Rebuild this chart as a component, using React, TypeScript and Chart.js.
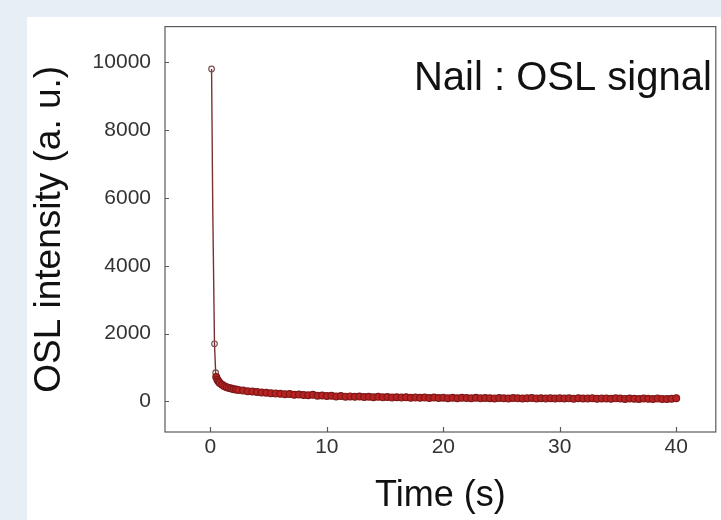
import React, { useEffect, useRef } from "react";
import { Chart, registerables } from "chart.js";

Chart.register(...registerables);

// Time (s)
const times: number[] = [
  0.1, 0.2, 0.35, 0.45, 0.5, 0.6, 0.7, 0.8, 1.0, 1.2, 1.4, 1.6, 1.8, 2.0, 2.2, 2.4, 2.8, 3.2, 3.6, 4.0,
  4.4, 4.8, 5.2, 5.6, 6.0, 6.4, 6.8, 7.2, 7.6, 8.0, 8.4, 8.8, 9.2, 9.6, 10.0, 10.4, 10.8, 11.2, 11.6,
  12.0, 12.4, 12.8, 13.2, 13.6, 14.0, 14.4, 14.8, 15.2, 15.6, 16.0, 16.4, 16.8, 17.2, 17.6, 18.0, 18.4,
  18.8, 19.2, 19.6, 20.0, 20.4, 20.8, 21.2, 21.6, 22.0, 22.4, 22.8, 23.2, 23.6, 24.0, 24.4, 24.8, 25.2,
  25.6, 26.0, 26.4, 26.8, 27.2, 27.6, 28.0, 28.4, 28.8, 29.2, 29.6, 30.0, 30.4, 30.8, 31.2, 31.6, 32.0,
  32.4, 32.8, 33.2, 33.6, 34.0, 34.4, 34.8, 35.2, 35.6, 36.0, 36.4, 36.8, 37.2, 37.6, 38.0, 38.4, 38.8,
  39.2, 39.6, 40.0,
];

// OSL intensity (a. u.)
const intensity: number[] = [
  9800, 5700, 1700, 850, 720, 640, 590, 545, 490, 450, 420, 395, 380, 360, 350, 335, 320, 300, 292, 280,
  265, 258, 245, 238, 228, 215, 222, 198, 205, 190, 182, 195, 170, 176, 160, 168, 150, 158, 142,
  150, 138, 146, 132, 140, 128, 136, 122, 130, 118, 126, 114, 124, 110, 120, 108, 118,
  104, 116, 102, 112, 98, 110, 96, 108, 100, 94, 106, 92, 104, 96, 90, 102, 94,
  88, 100, 92, 86, 98, 104, 90, 96, 84, 94, 88, 98, 86, 92, 82, 96, 88,
  84, 94, 80, 90, 86, 78, 92, 84, 76, 88, 82, 74, 86, 78, 72, 84, 76,
  70, 82, 95,
];

const xTickValues: number[] = [0, 10, 20, 30, 40];
const yTickValues: number[] = [0, 2000, 4000, 6000, 8000, 10000];

const titleText = "Nail : OSL signal";
const xTitle = "Time (s)";
const yTitle = "OSL intensity (a. u.)";

const FONT = "'Liberation Sans', Arial, sans-serif";

const framePlugin = {
  id: "frame",
  afterDraw(chart: any) {
    const { ctx, chartArea, scales } = chart;
    ctx.save();
    ctx.strokeStyle = "#5a5a5a";
    ctx.lineWidth = 1.2;
    ctx.strokeRect(chartArea.left, chartArea.top, chartArea.right - chartArea.left, chartArea.bottom - chartArea.top);
    ctx.beginPath();
    for (const v of yTickValues) {
      const y = Math.round(scales.y.getPixelForValue(v)) + 0.5;
      ctx.moveTo(chartArea.left, y);
      ctx.lineTo(chartArea.left + 4, y);
    }
    for (const v of xTickValues) {
      const x = Math.round(scales.x.getPixelForValue(v)) + 0.5;
      ctx.moveTo(x, chartArea.bottom);
      ctx.lineTo(x, chartArea.bottom - 5);
    }
    ctx.stroke();
    ctx.fillStyle = "#111";
    ctx.font = `40px ${FONT}`;
    ctx.textAlign = "right";
    ctx.textBaseline = "middle";
    ctx.fillText(titleText, chartArea.right - 4, 79);
    ctx.restore();
  },
};

export default function App() {
  const ref = useRef<HTMLCanvasElement>(null);
  useEffect(() => {
    if (!ref.current) return;
    const data = times.map((t, i) => ({ x: t, y: intensity[i] }));
    const chart = new Chart(ref.current, {
      type: "line",
      data: {
        datasets: [
          {
            data,
            borderColor: "#7a3030",
            borderWidth: 1.4,
            pointRadius: (c: any) => (c.dataIndex === 1 ? 0 : c.dataIndex < 4 ? 2.8 : 3.4),
            pointBorderWidth: 1.2,
            pointBackgroundColor: (c: any) => (c.dataIndex < 4 ? "rgba(255,255,255,0)" : "#b82222"),
            pointBorderColor: (c: any) => (c.dataIndex < 4 ? "#7a5050" : "#801818"),
            tension: 0,
          },
        ],
      },
      options: {
        responsive: false,
        animation: false,
        layout: { padding: { left: 0, top: 22, right: 5, bottom: 0 } },
        plugins: { legend: { display: false }, tooltip: { enabled: false } },
        scales: {
          x: {
            type: "linear",
            min: -3.9,
            max: 43.4,
            afterBuildTicks: (s: any) => {
              s.ticks = xTickValues.map((v) => ({ value: v }));
            },
            afterFit: (s: any) => {
              s.height = 88;
            },
            grid: { display: false, drawTicks: false },
            border: { display: false },
            ticks: {
              color: "#333",
              font: { family: FONT, size: 21 },
              padding: 3,
              maxRotation: 0,
              callback: (v: any) => String(v),
            },
            title: {
              display: true,
              text: xTitle,
              color: "#111",
              font: { family: FONT, size: 36 },
              padding: { top: 0, bottom: 2 },
            },
          },
          y: {
            type: "linear",
            min: -900,
            max: 11050,
            afterBuildTicks: (s: any) => {
              s.ticks = yTickValues.map((v) => ({ value: v }));
            },
            afterFit: (s: any) => {
              s.width = 165;
            },
            grid: { display: false, drawTicks: false },
            border: { display: false },
            ticks: {
              color: "#333",
              font: { family: FONT, size: 21 },
              padding: 14,
              callback: (v: any) => String(v),
            },
            title: {
              display: true,
              text: yTitle,
              color: "#111",
              font: { family: FONT, size: 37 },
              padding: { top: 28, bottom: 0 },
            },
          },
        },
      },
      plugins: [framePlugin],
    } as any);
    return () => chart.destroy();
  }, []);

  return (
    <div style={{ position: "absolute", left: 0, top: 0, width: 721, height: 520, background: "#e8eef6", overflow: "hidden" }}>
      <div style={{ position: "absolute", left: 27, top: 17, right: 0, bottom: 0, background: "#ffffff" }} />
      <canvas ref={ref} width={721} height={520} style={{ position: "absolute", left: 0, top: 0 }} />
    </div>
  );
}
